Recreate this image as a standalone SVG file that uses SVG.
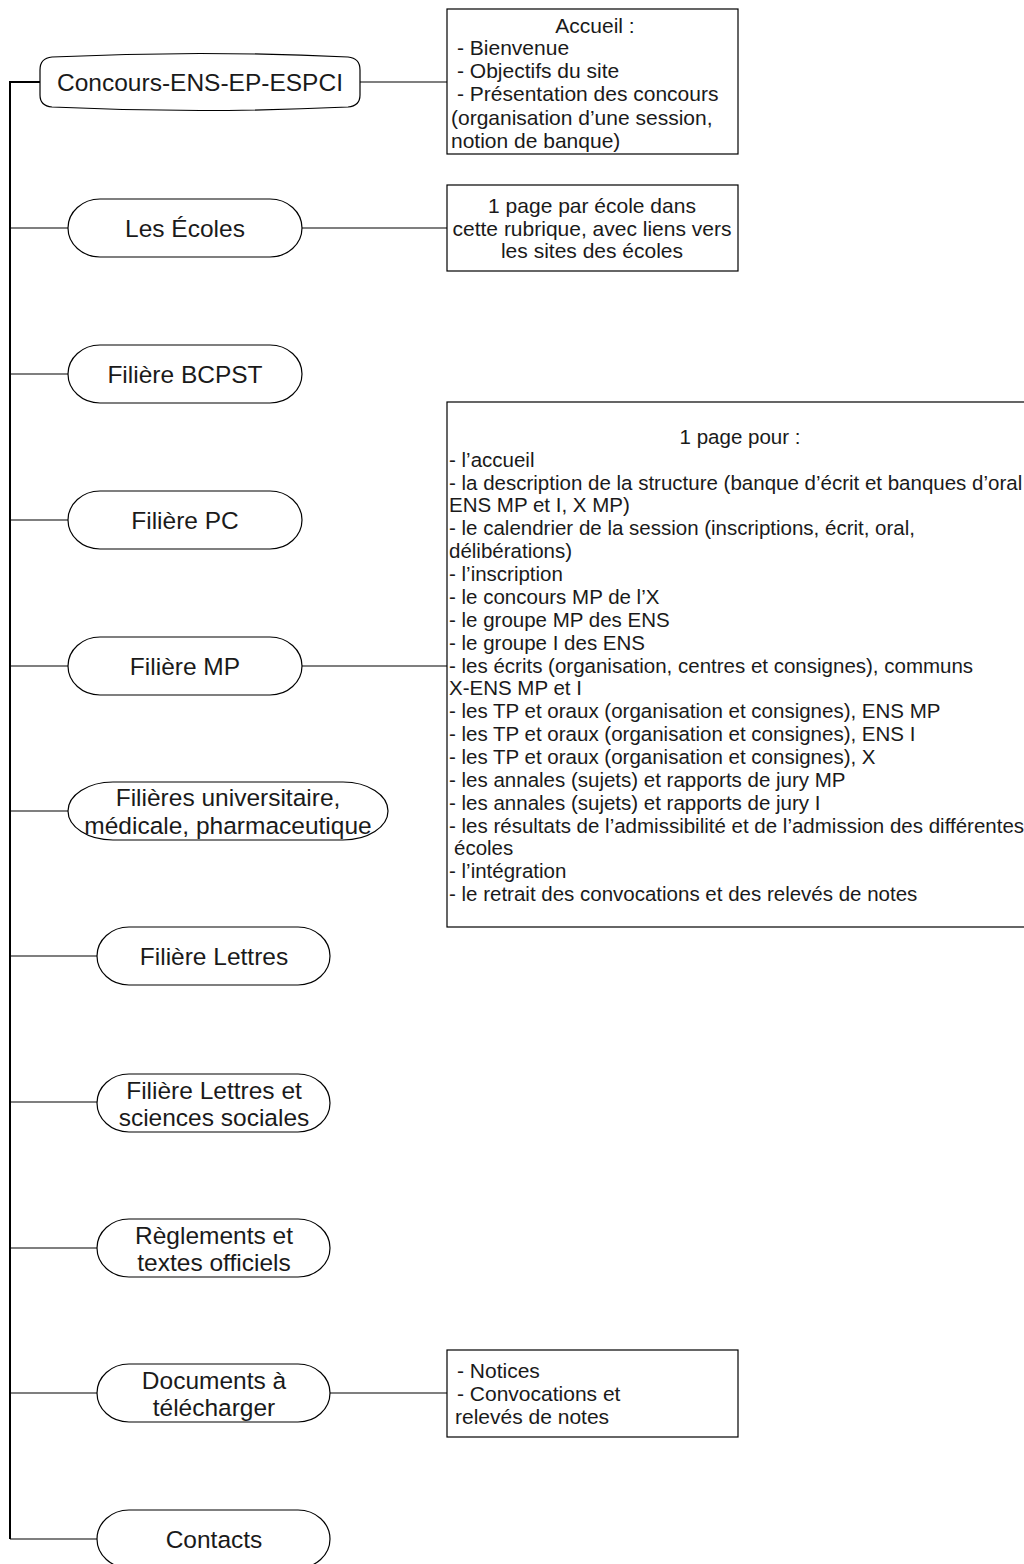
<svg xmlns="http://www.w3.org/2000/svg" width="1024" height="1564" viewBox="0 0 1024 1564">
<style>
.bg{fill:#fff}
.shape{fill:#fff;stroke:#000;stroke-width:1.2}
.box{fill:#fff;stroke:#000;stroke-width:1.2}
.conn{fill:none;stroke:#000;stroke-width:1.2}
.trunk{fill:none;stroke:#000;stroke-width:2}
.nt{font-family:"Liberation Sans",Arial,sans-serif;font-size:24.5px;fill:#1a1a1a;text-anchor:middle}
.bt{font-family:"Liberation Sans",Arial,sans-serif;font-size:21px;fill:#1a1a1a}
.big{font-family:"Liberation Sans",Arial,sans-serif;font-size:20.5px;fill:#1a1a1a}
.c{text-anchor:middle}
</style>
<rect class="bg" x="0" y="0" width="1024" height="1564"/>
<g id="connectors">
<path class="trunk" d="M40,82 H10 V1539"/>
<path class="conn" d="M10,228 H68 M10,374 H68 M10,520 H68 M10,666 H68 M10,811 H68 M10,956 H97 M10,1102 H97 M10,1248 H97 M10,1393 H97 M10,1539 H97"/>
<path class="conn" d="M360,82 H447 M302,228 H447 M302,666 H447 M330,1393 H447"/>
</g>
<g id="node-concours">
<path class="shape" d="M52,57 Q200,50 348,57 Q360,58 360,70 V95 Q360,106 348,107 Q200,114 52,107 Q40,106 40,95 V70 Q40,58 52,57 Z"/>
<text class="nt" x="200" y="91">Concours-ENS-EP-ESPCI</text>
</g>
<g id="box-accueil">
<rect class="box" x="447" y="9" width="291" height="145"/>
<text class="bt c" x="595" y="33">Accueil :</text>
<text class="bt" x="457" y="55">- Bienvenue</text>
<text class="bt" x="457" y="78">- Objectifs du site</text>
<text class="bt" x="457" y="101">- Présentation des concours</text>
<text class="bt" x="451" y="125">(organisation d’une session,</text>
<text class="bt" x="451" y="148">notion de banque)</text>
</g>
<g id="node-ecoles">
<rect class="shape" x="68" y="199" width="234" height="58" rx="32" ry="29"/>
<text class="nt" x="185" y="237">Les Écoles</text>
</g>
<g id="box-ecoles">
<rect class="box" x="447" y="185" width="291" height="86"/>
<text class="bt c" x="592" y="213">1 page par école dans</text>
<text class="bt c" x="592" y="236">cette rubrique, avec liens vers</text>
<text class="bt c" x="592" y="258">les sites des écoles</text>
</g>
<g id="node-bcpst">
<rect class="shape" x="68" y="345" width="234" height="58" rx="32" ry="29"/>
<text class="nt" x="185" y="383">Filière BCPST</text>
</g>
<g id="node-pc">
<rect class="shape" x="68" y="491" width="234" height="58" rx="32" ry="29"/>
<text class="nt" x="185" y="529">Filière PC</text>
</g>
<g id="node-mp">
<rect class="shape" x="68" y="637" width="234" height="58" rx="32" ry="29"/>
<text class="nt" x="185" y="675">Filière MP</text>
</g>
<g id="box-mp">
<rect class="box" x="447" y="402" width="590" height="525"/>
<text class="big c" x="740" y="444">1 page pour :</text>
<text class="big" x="449" y="467">- l’accueil</text>
<text class="big" x="449" y="490">- la description de la structure (banque d’écrit et banques d’oral</text>
<text class="big" x="449" y="512">ENS MP et I, X MP)</text>
<text class="big" x="449" y="535">- le calendrier de la session (inscriptions, écrit, oral,</text>
<text class="big" x="449" y="558">délibérations)</text>
<text class="big" x="449" y="581">- l’inscription</text>
<text class="big" x="449" y="604">- le concours MP de l’X</text>
<text class="big" x="449" y="627">- le groupe MP des ENS</text>
<text class="big" x="449" y="650">- le groupe I des ENS</text>
<text class="big" x="449" y="673">- les écrits (organisation, centres et consignes), communs</text>
<text class="big" x="449" y="695">X-ENS MP et I</text>
<text class="big" x="449" y="718">- les TP et oraux (organisation et consignes), ENS MP</text>
<text class="big" x="449" y="741">- les TP et oraux (organisation et consignes), ENS I</text>
<text class="big" x="449" y="764">- les TP et oraux (organisation et consignes), X</text>
<text class="big" x="449" y="787">- les annales (sujets) et rapports de jury MP</text>
<text class="big" x="449" y="810">- les annales (sujets) et rapports de jury I</text>
<text class="big" x="449" y="833">- les résultats de l’admissibilité et de l’admission des différentes</text>
<text class="big" x="454" y="855">écoles</text>
<text class="big" x="449" y="878">- l’intégration</text>
<text class="big" x="449" y="901">- le retrait des convocations et des relevés de notes</text>
</g>
<g id="node-univ">
<rect class="shape" x="68" y="782" width="320" height="58" rx="45" ry="29"/>
<text class="nt" x="228" y="806">Filières universitaire,</text>
<text class="nt" x="228" y="834">médicale, pharmaceutique</text>
</g>
<g id="node-lettres">
<rect class="shape" x="97" y="927" width="233" height="58" rx="32" ry="29"/>
<text class="nt" x="214" y="965">Filière Lettres</text>
</g>
<g id="node-lettres-ss">
<rect class="shape" x="97" y="1074" width="233" height="58" rx="32" ry="29"/>
<text class="nt" x="214" y="1099">Filière Lettres et</text>
<text class="nt" x="214" y="1126">sciences sociales</text>
</g>
<g id="node-reglements">
<rect class="shape" x="97" y="1219" width="233" height="58" rx="32" ry="29"/>
<text class="nt" x="214" y="1244">Règlements et</text>
<text class="nt" x="214" y="1271">textes officiels</text>
</g>
<g id="node-documents">
<rect class="shape" x="97" y="1364" width="233" height="58" rx="32" ry="29"/>
<text class="nt" x="214" y="1389">Documents à</text>
<text class="nt" x="214" y="1416">télécharger</text>
</g>
<g id="box-documents">
<rect class="box" x="447" y="1350" width="291" height="87"/>
<text class="bt" x="457" y="1378">- Notices</text>
<text class="bt" x="457" y="1401">- Convocations et</text>
<text class="bt" x="455" y="1424">relevés de notes</text>
</g>
<g id="node-contacts">
<rect class="shape" x="97" y="1510" width="233" height="58" rx="32" ry="29"/>
<text class="nt" x="214" y="1548">Contacts</text>
</g>
</svg>
